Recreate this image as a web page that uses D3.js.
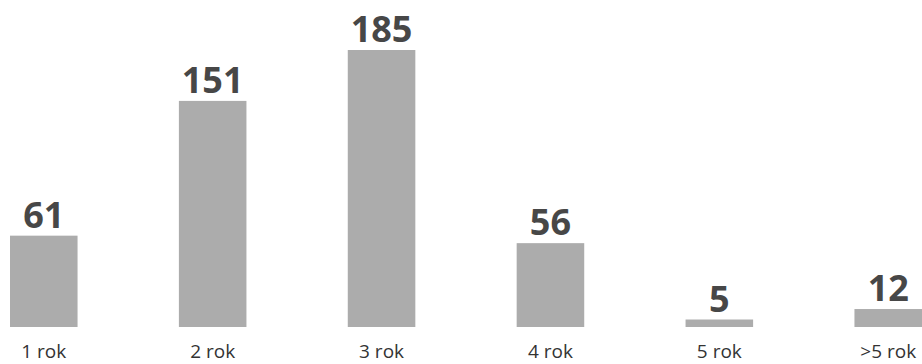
<!DOCTYPE html>
<html>
<head>
<meta charset="utf-8">
<script src="https://cdn.jsdelivr.net/npm/d3@7"></script>
<style>
  body { margin: 0; background: #fff; }
  svg { display: block; font-family: "Open Sans", sans-serif; }
</style>
</head>
<body>
<script>
const categories = ["1 rok", "2 rok", "3 rok", "4 rok", "5 rok", ">5 rok"]
const values = [61, 151, 185, 56, 5, 12]

const width = 922, height = 364

const svg = d3.select("body").append("svg")
  .attr("width", width)
  .attr("height", height)

const x = d3.scaleBand()
  .domain(categories)
  .range([10, 922])
  .paddingInner(0.6)
  .paddingOuter(0)

const y = d3.scaleLinear()
  .domain([0, 185])
  .range([327, 50])

// bars
svg.selectAll("rect.bar")
  .data(values)
  .enter()
  .append("rect")
  .attr("class", "bar")
  .attr("x", (d, i) => x(categories[i]))
  .attr("y", d => y(d))
  .attr("width", x.bandwidth())
  .attr("height", d => y(0) - y(d))
  .style("fill", "#acacac")

// value labels
svg.selectAll("text.value")
  .data(values)
  .enter()
  .append("text")
  .attr("class", "value")
  .attr("x", (d, i) => x(categories[i]) + x.bandwidth() / 2)
  .attr("y", d => y(d) - 8)
  .attr("text-anchor", "middle")
  .attr("font-size", "36px")
  .attr("font-weight", "bold")
  .attr("fill", "#474747")
  .text(d => d)

// category labels
svg.selectAll("text.cat")
  .data(categories)
  .enter()
  .append("text")
  .attr("class", "cat")
  .attr("x", d => x(d) + x.bandwidth() / 2)
  .attr("y", 358)
  .attr("text-anchor", "middle")
  .attr("font-size", "19px")
  .attr("fill", "#333")
  .text(d => d)
</script>
</body>
</html>
